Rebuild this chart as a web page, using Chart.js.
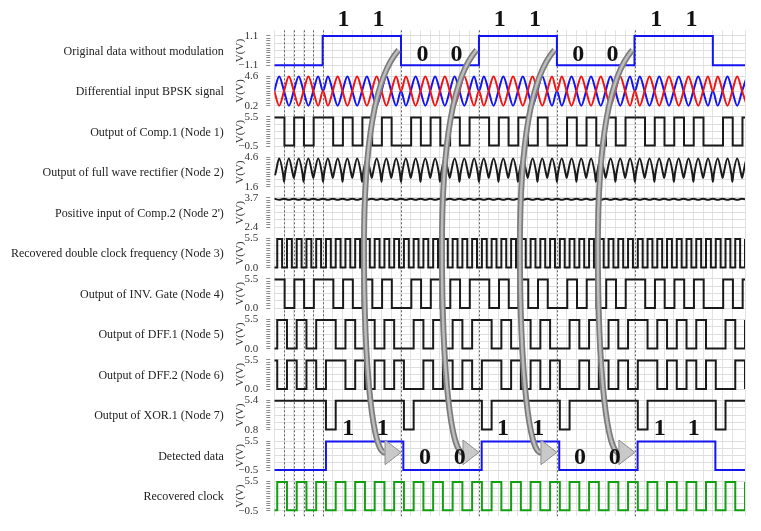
<!DOCTYPE html>
<html><head><meta charset="utf-8">
<script src="https://cdn.jsdelivr.net/npm/chart.js@4.4.1/dist/chart.umd.min.js"></script>
<style>html,body{margin:0;padding:0;background:#fff;}#wrap{width:761px;height:531px;position:relative;}</style>
</head><body><div id="wrap"><canvas id="c"></canvas></div>
<script>
// ---------- panels ----------
const panelNames = [
  'Original data without modulation',
  'Differential input BPSK signal',
  'Output of Comp.1 (Node 1)',
  'Output of full wave rectifier (Node 2)',
  "Positive input of Comp.2 (Node 2')",
  'Recovered double clock frequency (Node 3)',
  'Output of INV. Gate (Node 4)',
  'Output of DFF.1 (Node 5)',
  'Output of DFF.2 (Node 6)',
  'Output of XOR.1 (Node 7)',
  'Detected data',
  'Recovered clock'
];
const panelMin = [-1.1, 0.2, -0.5, 1.6, 2.4, 0.0, 0.0, 0.0, 0.0, 0.8, -0.5, -0.5];
const panelMax = [1.1, 4.6, 5.5, 4.6, 3.7, 5.5, 5.5, 5.5, 5.5, 5.4, 5.5, 5.5];
const T_END = 24.15;

// ---------- digital signals (edge times / slot levels) ----------
const dataEdges = [2.48, 6.5, 10.5, 14.5, 18.48, 22.5];
const detectedEdges = [2.65, 6.62, 10.64, 14.62, 18.64, 22.63];
const xorEdges = [2.65, 3.15, 6.65, 7.15, 10.65, 11.15, 14.65, 15.15, 18.65, 19.15, 22.65, 23.15];

const node1Levels = [1,0,1,0,1, 1,0,1,0,1,0,1,0, 0,1,0,1,0,1,0,1, 1,0,1,0,1,0,1,0, 0,1,0,1,0,1,0,1, 1,0,1,0,1,0,1,0, 0,1,0,1];
const node4Levels = [1,0,1,0,1, 1,0,1,0,1,0,1,0, 0,1,0,1,0,1,0,1, 1,0,1,0,1,0,1,0, 0,1,0,1,0,1,0,1, 1,0,1,0,1,0,1,0, 0,1,0,1];
const node5Levels = [1,0,1,0,1, 1,0,1,0,1,0,1,0, 0,1,0,1,0,1,0,1, 1,0,1,0,1,0,1,0, 0,1,0,1,0,1,0,1, 1,0,1,0,1,0,1,0, 0,1,0,1];
const node6Levels = [0, 1,0,1,0,1, 1,0,1,0,1,0,1,0, 0,1,0,1,0,1,0,1, 1,0,1,0,1,0,1,0, 0,1,0,1,0,1,0,1, 1,0,1,0,1,0,1,0, 0,1,0,1];
const node3Levels = [
  1,0,1,0,1,0,1,0,1,0,1,0,1,0,1,0,
  1,0,1,0,1,0,1,0,1,0,1,0,1,0,1,0,
  1,0,1,0,1,0,1,0,1,0,1,0,1,0,1,0,
  1,0,1,0,1,0,1,0,1,0,1,0,1,0,1,0,
  1,0,1,0,1,0,1,0,1,0,1,0,1,0,1,0,
  1,0,1,0,1,0,1,0,1,0,1,0,1,0,1,0,
  1];
const clockLevels = [
  1,0,1,0,1,0,1,0,1,0,1,0,1,0,1,0,
  1,0,1,0,1,0,1,0,1,0,1,0,1,0,1,0,
  1,0,1,0,1,0,1,0,1,0,1,0,1,0,1,0,
  1];

// ---------- analog signals (sampled values) ----------
const bpskStep = 0.25;
const bpskBlue = [
  2.4,4.6,2.4,0.2,2.4,4.6,2.4,0.2,2.4,4.6,2.4,
  4.6,2.4,0.2,2.4,4.6,2.4,0.2,2.4,4.6,2.4,0.2,2.4,4.6,2.4,0.2,2.4,
  0.2,2.4,4.6,2.4,0.2,2.4,4.6,2.4,0.2,2.4,4.6,2.4,0.2,2.4,4.6,2.4,
  4.6,2.4,0.2,2.4,4.6,2.4,0.2,2.4,4.6,2.4,0.2,2.4,4.6,2.4,0.2,2.4,
  0.2,2.4,4.6,2.4,0.2,2.4,4.6,2.4,0.2,2.4,4.6,2.4,0.2,2.4,4.6,2.4,
  4.6,2.4,0.2,2.4,4.6,2.4,0.2,2.4,4.6,2.4,0.2,2.4,4.6,2.4,0.2,2.4,
  0.2,2.4,4.6,2.4,0.2,2.4,4.6];
const bpskRed = [
  2.4,0.2,2.4,4.6,2.4,0.2,2.4,4.6,2.4,0.2,2.4,
  0.2,2.4,4.6,2.4,0.2,2.4,4.6,2.4,0.2,2.4,4.6,2.4,0.2,2.4,4.6,2.4,
  4.6,2.4,0.2,2.4,4.6,2.4,0.2,2.4,4.6,2.4,0.2,2.4,4.6,2.4,0.2,2.4,
  0.2,2.4,4.6,2.4,0.2,2.4,4.6,2.4,0.2,2.4,4.6,2.4,0.2,2.4,4.6,2.4,
  4.6,2.4,0.2,2.4,4.6,2.4,0.2,2.4,4.6,2.4,0.2,2.4,4.6,2.4,0.2,2.4,
  0.2,2.4,4.6,2.4,0.2,2.4,4.6,2.4,0.2,2.4,4.6,2.4,0.2,2.4,4.6,2.4,
  4.6,2.4,0.2,2.4,4.6,2.4,0.2];

const rectStep = 0.5;
const rectValley = 2.9;
const rectCusp = [2.8,
  2.1,2.5,2.1,2.5,2.1,2.5,2.1,2.5,2.1,2.5,2.1,2.5,2.1,2.5,2.1,2.5,
  2.1,2.5,2.1,2.5,2.1,2.5,2.1,2.5,2.1,2.5,2.1,2.5,2.1,2.5,2.1,2.5,
  2.1,2.5,2.1,2.5,2.1,2.5,2.1,2.5,2.1,2.5,2.1,2.5,2.1,2.5,2.1,2.5];
const rectPeak = [
  4.5,4.5,4.5,4.5,4.5,4.5,4.5,4.5,4.5,4.5,4.5,4.5,4.5,4.5,4.5,4.5,
  4.5,4.5,4.5,4.5,4.5,4.5,4.5,4.5,4.5,4.5,4.5,4.5,4.5,4.5,4.5,4.5,
  4.5,4.5,4.5,4.5,4.5,4.5,4.5,4.5,4.5,4.5,4.5,4.5,4.5,4.5,4.5,4.5,4.5];

const node2pStep = 0.25;
const node2pVals = [
  3.67,3.62,3.67,3.62,3.67,3.62,3.67,3.62,3.67,3.62,3.67,3.62,3.67,3.62,
  3.67,3.62,3.67,3.62,3.67,3.62,3.67,3.62,3.67,3.62,3.67,3.62,3.67,3.62,
  3.67,3.62,3.67,3.62,3.67,3.62,3.67,3.62,3.67,3.62,3.67,3.62,3.67,3.62,
  3.67,3.62,3.67,3.62,3.67,3.62,3.67,3.62,3.67,3.62,3.67,3.62,3.67,3.62,
  3.67,3.62,3.67,3.62,3.67,3.62,3.67,3.62,3.67,3.62,3.67,3.62,3.67,3.62,
  3.67,3.62,3.67,3.62,3.67,3.62,3.67,3.62,3.67,3.62,3.67,3.62,3.67,3.62,
  3.67,3.62,3.67,3.62,3.67,3.62,3.67,3.62,3.67,3.62,3.67,3.62,3.67,3.62];

// ---------- annotations ----------
const markerTimes = [0.5, 1.0, 1.5, 2.0, 2.5, 6.5, 10.5, 14.5, 18.5];
const arrowEdges = [6.5, 10.5, 14.5, 18.5];
const bitText = ['1','1','0','0','1','1','0','0','1','1'];
const topBitTimes = [3.55, 5.35, 7.6, 9.35, 11.57, 13.37, 15.59, 17.35, 19.6, 21.4];
const bottomBitTimes = [3.79, 5.56, 7.73, 9.52, 11.74, 13.54, 15.68, 17.47, 19.78, 21.52];

// ---------- helpers ----------
function stepSeries(init, edges, lo, hi) {
  let lev = init;
  const pts = [{x: 0, y: lev ? hi : lo}];
  edges.forEach(e => { lev = 1 - lev; pts.push({x: e, y: lev ? hi : lo}); });
  pts.push({x: T_END + 1, y: lev ? hi : lo});
  return pts;
}
function slotSeries(init, start, width, levels, lo, hi) {
  const pts = [{x: 0, y: init ? hi : lo}];
  levels.forEach((l, i) => pts.push({x: start + i * width, y: l ? hi : lo}));
  pts.push({x: start + levels.length * width, y: levels[levels.length - 1] ? hi : lo});
  return pts;
}
const rectPts = [];
rectCusp.forEach((c, k) => {
  const t0 = k * rectStep;
  rectPts.push({x: t0, y: c});
  if (k < rectPeak.length) {
    rectPts.push({x: t0 + 0.05, y: rectValley});
    rectPts.push({x: t0 + 0.25, y: rectPeak[k]});
    rectPts.push({x: t0 + 0.45, y: rectValley});
  }
});

const BLUE = '#1414f0', RED = '#f01414', BLACK = '#1a1a1a', GREEN = '#12a012';
const datasets = [];
function addLine(data, panel, color, extra) {
  datasets.push(Object.assign({data, yAxisID: 'y' + panel, xAxisID: 'x', borderColor: color,
    borderWidth: 2, pointRadius: 0, fill: false, tension: 0}, extra || {}));
}
const STEP = {stepped: true};
const SMOOTH = {cubicInterpolationMode: 'monotone'};
addLine(stepSeries(0, dataEdges, -1.1, 1.1), 0, BLUE, STEP);
addLine(bpskRed.map((v, i) => ({x: i * bpskStep, y: v})), 1, RED, SMOOTH);
addLine(bpskBlue.map((v, i) => ({x: i * bpskStep, y: v})), 1, BLUE, SMOOTH);
addLine(slotSeries(1, 0.02, 0.5, node1Levels, -0.35, 5.4), 2, BLACK, STEP);
addLine(rectPts, 3, BLACK, SMOOTH);
addLine(node2pVals.map((v, i) => ({x: i * node2pStep, y: v})), 4, BLACK, SMOOTH);
addLine(slotSeries(0, 0.15, 0.25, node3Levels, 0.05, 5.4), 5, BLACK, STEP);
addLine(slotSeries(1, 0.03, 0.5, node4Levels, 0.05, 5.4), 6, BLACK, STEP);
addLine(slotSeries(0, 0.15, 0.5, node5Levels, 0.05, 5.4), 7, BLACK, STEP);
addLine(slotSeries(1, 0.15, 0.5, node6Levels, 0.05, 5.4), 8, BLACK, STEP);
addLine(stepSeries(1, xorEdges, 0.85, 5.35), 9, BLACK, STEP);
addLine(stepSeries(0, detectedEdges, -0.45, 5.4), 10, BLUE, STEP);
addLine(slotSeries(0, 0.15, 0.5, clockLevels, -0.4, 5.4), 11, GREEN, STEP);

// ---------- scales ----------
const PAD = 0.192, COMB = 12, AXIS_W = 50;
const SERIF = 'Liberation Serif';
const fmt = v => { const s = (Math.round(v * 10) / 10).toFixed(1); return s.startsWith('-') ? '\u2212' + s.slice(1) : s; };
const scales = {
  x: {type: 'linear', min: 0, max: T_END,
      ticks: {display: false, stepSize: 0.5},
      grid: {color: '#e2e2e2', drawTicks: false},
      border: {display: false},
      afterFit: s => { s.height = 0; }}
};
panelNames.forEach((n, i) => {
  const lo = panelMin[i], hi = panelMax[i], d = hi - lo;
  scales['y' + i] = {
    type: 'linear', position: 'left', stack: 'panels', stackWeight: 1, weight: 12 - i,
    min: lo - PAD * d, max: hi + PAD * d,
    afterBuildTicks: s => { s.ticks = Array.from({length: COMB + 1}, (_, j) => ({value: lo + j * d / COMB})); },
    afterFit: s => { s.width = AXIS_W; },
    border: {display: false},
    grid: {color: c => (c.index % 3 === 0 ? '#dedede' : 'rgba(0,0,0,0)'),
           tickColor: '#8a8a8a', tickLength: 8, tickBorderDash: [4, 4], tickWidth: 1, lineWidth: 1},
    ticks: {autoSkip: false, padding: 8, color: '#333', font: {family: SERIF, size: 11},
            callback: (v, j, arr) => (j === 0 || j === arr.length - 1) ? fmt(v) : ''},
    title: {display: true, text: 'V(V)', color: '#333', font: {family: SERIF, size: 11}, padding: {top: 9, bottom: 0}}
  };
});

// ---------- plugins ----------
const panelLabelPlugin = {
  id: 'panelLabels',
  afterDraw(chart) {
    const ctx = chart.ctx;
    ctx.save();
    ctx.font = '12px "' + SERIF + '"';
    ctx.fillStyle = '#222';
    ctx.textAlign = 'right';
    ctx.textBaseline = 'middle';
    panelNames.forEach((name, i) => {
      const s = chart.scales['y' + i];
      ctx.fillText(name, s.left - 0.5, (s.top + s.bottom) / 2 + 1);
    });
    ctx.restore();
  }
};
const markerPlugin = {
  id: 'markers',
  beforeDatasetsDraw(chart) {
    const ctx = chart.ctx, a = chart.chartArea, xs = chart.scales.x;
    ctx.save();
    ctx.strokeStyle = '#666';
    ctx.lineWidth = 1;
    ctx.setLineDash([2, 2]);
    markerTimes.forEach(t => {
      const x = Math.round(xs.getPixelForValue(t)) + 0.5;
      ctx.beginPath(); ctx.moveTo(x, a.top); ctx.lineTo(x, a.bottom); ctx.stroke();
    });
    ctx.restore();
  }
};
// arrow geometry: [time offset from edge, panel, value in that panel]
const arrowPath = [[-0.12, 0, 0.05], [-1.0, 0, -1.4], [-1.9, 2, 5.1], [-1.9, 5, 3.8],
                   [-1.9, 8, 2.5], [-1.4, 10, 2.7], [-0.82, 10, 3.17]];
const arrowHead = [[-0.82, 10, 5.7], [0, 10, 3.17], [-0.82, 10, 0.64]];
const annotationPlugin = {
  id: 'annot',
  afterDatasetsDraw(chart) {
    const ctx = chart.ctx, xs = chart.scales.x;
    const P = (t, p, v) => [xs.getPixelForValue(t), chart.scales['y' + p].getPixelForValue(v)];
    ctx.save();
    arrowEdges.forEach(e => {
      const pts = arrowPath.map(q => P(e + q[0], q[1], q[2]));
      const path = () => {
        ctx.beginPath();
        ctx.moveTo(pts[0][0], pts[0][1]);
        ctx.bezierCurveTo(pts[1][0], pts[1][1], pts[2][0], pts[2][1], pts[3][0], pts[3][1]);
        ctx.bezierCurveTo(pts[4][0], pts[4][1], pts[5][0], pts[5][1], pts[6][0], pts[6][1]);
      };
      ctx.lineCap = 'butt';
      path(); ctx.strokeStyle = '#7c7c7c'; ctx.lineWidth = 6; ctx.stroke();
      path(); ctx.strokeStyle = '#bdbdbd'; ctx.lineWidth = 2.5; ctx.stroke();
      const h = arrowHead.map(q => P(e + q[0], q[1], q[2]));
      ctx.beginPath();
      ctx.moveTo(h[0][0], h[0][1]); ctx.lineTo(h[1][0], h[1][1]); ctx.lineTo(h[2][0], h[2][1]); ctx.closePath();
      ctx.fillStyle = '#c9c9c9'; ctx.fill();
      ctx.strokeStyle = '#8f8f8f'; ctx.lineWidth = 1; ctx.stroke();
    });
    ctx.font = 'bold 24px "' + SERIF + '"';
    ctx.fillStyle = '#111';
    ctx.textAlign = 'center';
    ctx.textBaseline = 'middle';
    bitText.forEach((b, i) => {
      const top = P(topBitTimes[i], 0, b === '1' ? 2.3 : -0.3);
      ctx.fillText(b, top[0], top[1]);
      const bot = P(bottomBitTimes[i], 10, b === '1' ? 7.9 : 2.15);
      ctx.fillText(b, bot[0], bot[1]);
    });
    ctx.restore();
  }
};

new Chart(document.getElementById('c'), {
  type: 'line',
  data: {datasets},
  options: {
    responsive: true, maintainAspectRatio: false, animation: false, events: [],
    layout: {padding: {top: 30.3, bottom: 8.8, left: 224.3, right: 16}},
    plugins: {legend: {display: false}, tooltip: {enabled: false}, title: {display: false}},
    scales
  },
  plugins: [markerPlugin, annotationPlugin, panelLabelPlugin]
});
</script></body></html>
